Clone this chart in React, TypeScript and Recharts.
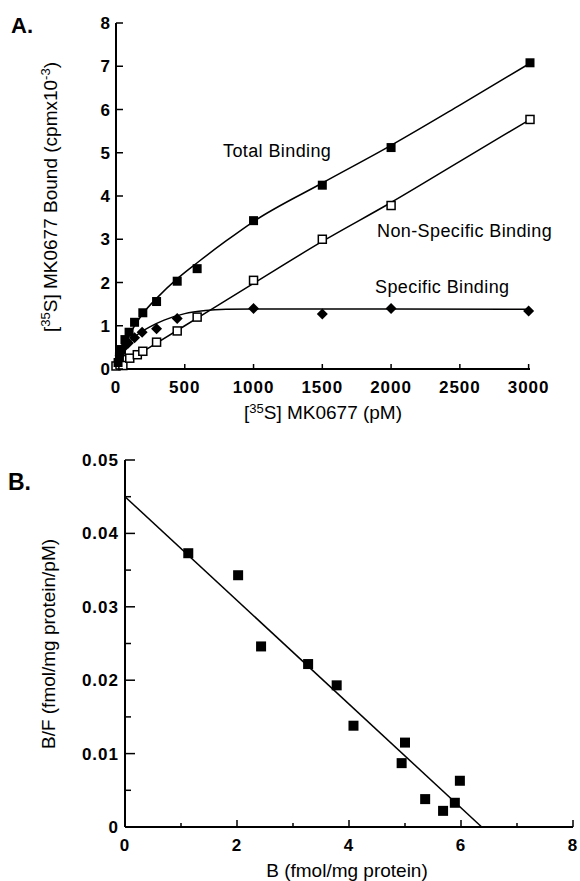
import { ComposedChart, Line, Scatter, XAxis, YAxis } from 'recharts'

// ---- Panel A: saturation binding ----
const totalConc = [15, 25, 40, 65, 95, 135, 195, 295, 445, 590, 1000, 1500, 2000, 3010]
const totalBound = [0.15, 0.28, 0.45, 0.68, 0.85, 1.08, 1.3, 1.56, 2.03, 2.32, 3.43, 4.25, 5.12, 7.08]
const nsbConc = [0, 50, 100, 155, 195, 295, 445, 590, 1000, 1500, 2000, 3010]
const nsbBound = [0.07, 0.08, 0.25, 0.33, 0.41, 0.62, 0.88, 1.2, 2.05, 3.0, 3.78, 5.77]
const specConc = [30, 55, 90, 135, 190, 295, 445, 1000, 1500, 2000, 3000]
const specBound = [0.32, 0.5, 0.6, 0.72, 0.85, 0.93, 1.17, 1.4, 1.27, 1.4, 1.34]

// fitted curves
const totalFitX = [0, 50, 100, 200, 300, 450, 600, 800, 1000, 1500, 2000, 2500, 3000]
const totalFitY = [0, 0.45, 0.8, 1.3, 1.65, 2.1, 2.48, 2.96, 3.41, 4.3, 5.17, 6.1, 7.05]
const nsbFitX = [0, 500, 1000, 1500, 2000, 2500, 3000]
const nsbFitY = [0.02, 1.0, 1.98, 2.95, 3.85, 4.8, 5.75]
const specFitX = [0, 50, 100, 150, 250, 350, 500, 650, 800, 1000, 2000, 3000]
const specFitY = [0, 0.42, 0.64, 0.78, 0.98, 1.13, 1.28, 1.35, 1.38, 1.39, 1.39, 1.38]

const aXTicks = [0, 500, 1000, 1500, 2000, 2500, 3000]
const aYTicks = [0, 1, 2, 3, 4, 5, 6, 7, 8]

// ---- Panel B: Scatchard plot ----
const boundB = [1.13, 2.02, 2.43, 3.27, 3.78, 4.08, 5.0, 4.94, 5.98, 5.36, 5.68, 5.89]
const ratioBF = [0.0373, 0.0343, 0.0246, 0.0222, 0.0193, 0.0138, 0.0115, 0.0087, 0.0063, 0.0038, 0.0022, 0.0033]
const bFitX = [0, 6.37]
const bFitY = [0.045, 0]

const bXTicks = [0, 1, 2, 3, 4, 5, 6, 7, 8]
const bYTicks = [0, 0.005, 0.01, 0.015, 0.02, 0.025, 0.03, 0.035, 0.04, 0.045, 0.05]

const zip = (xs: number[], ys: number[]) => xs.map((x, i) => ({ x, y: ys[i] }))

const FONT = '"Liberation Sans", Arial, Helvetica, sans-serif'
const tickFont = { fontFamily: FONT, fontSize: 17, fontWeight: 700, letterSpacing: 1, fill: '#000' }
const titleFont = { fontFamily: FONT, fontSize: 19, fill: '#000' }

type TickOpts = {
  side: 'x' | 'y'
  isMajor: (v: number) => boolean
  fmt: (v: number) => string
  majorLen: number
  minorLen: number
  labelGap: number
}

// ticks point into the plot, so lines are drawn here instead of by the axis
function makeTick({ side, isMajor, fmt, majorLen, minorLen, labelGap }: TickOpts) {
  return (props: any) => {
    const { x, y, payload } = props
    const v = payload.value
    const major = isMajor(v)
    const len = major ? majorLen : minorLen
    if (side === 'x') {
      return (
        <g>
          <line x1={x} x2={x} y1={y} y2={y - len} stroke="#000" strokeWidth={1.5} />
          {major && (
            <text x={x} y={y + labelGap} textAnchor="middle" style={tickFont}>
              {fmt(v)}
            </text>
          )}
        </g>
      )
    }
    return (
      <g>
        <line x1={x} x2={x + len} y1={y} y2={y} stroke="#000" strokeWidth={1.5} />
        {major && (
          <text x={x - labelGap} y={y + 6} textAnchor="end" style={tickFont}>
            {fmt(v)}
          </text>
        )}
      </g>
    )
  }
}

const filledSquare = (s: number) => (p: any) => (
  <rect x={p.cx - s / 2} y={p.cy - s / 2} width={s} height={s} fill="#000" />
)
const openSquare = (s: number) => (p: any) => (
  <rect x={p.cx - s / 2} y={p.cy - s / 2} width={s} height={s} fill="#fff" stroke="#000" strokeWidth={1.5} />
)
const diamond = (s: number) => (p: any) => (
  <path
    d={`M${p.cx},${p.cy - s / 2} L${p.cx + s / 2},${p.cy} L${p.cx},${p.cy + s / 2} L${p.cx - s / 2},${p.cy} Z`}
    fill="#000"
  />
)

function PanelA() {
  return (
    <ComposedChart width={580} height={440} margin={{ top: 23, right: 50, bottom: 11, left: 0 }}>
      <XAxis
        type="number"
        dataKey="x"
        domain={[0, 3000]}
        ticks={aXTicks}
        interval={0}
        height={60}
        tickSize={0}
        tickMargin={0}
        tickLine={false}
        axisLine={{ stroke: '#000', strokeWidth: 2 }}
        tick={makeTick({ side: 'x', isMajor: () => true, fmt: (v) => String(v), majorLen: 5, minorLen: 0, labelGap: 24 })}
        label={{
          content: () => (
            <text x={323} y={419} textAnchor="middle" style={titleFont}>
              [<tspan dy={-6} fontSize={13}>35</tspan>
              <tspan dy={6}>S] MK0677 (pM)</tspan>
            </text>
          ),
        }}
      />
      <YAxis
        type="number"
        dataKey="y"
        domain={[0, 8]}
        ticks={aYTicks}
        interval={0}
        width={116}
        tickSize={0}
        tickMargin={0}
        tickLine={false}
        axisLine={{ stroke: '#000', strokeWidth: 2 }}
        tick={makeTick({ side: 'y', isMajor: () => true, fmt: (v) => String(v), majorLen: 7, minorLen: 0, labelGap: 5 })}
        label={{
          content: () => (
            <text transform="translate(57,197) rotate(-90)" textAnchor="middle" style={titleFont}>
              [<tspan dy={-7} fontSize={13}>35</tspan>
              <tspan dy={7}>S] MK0677 Bound (cpmx10</tspan>
              <tspan dy={-7} fontSize={13}>-3</tspan>
              <tspan dy={7}>)</tspan>
            </text>
          ),
        }}
      />
      <Line data={zip(totalFitX, totalFitY)} dataKey="y" type="monotone" stroke="#000" strokeWidth={1.5} dot={false} isAnimationActive={false} />
      <Line data={zip(nsbFitX, nsbFitY)} dataKey="y" type="monotone" stroke="#000" strokeWidth={1.5} dot={false} isAnimationActive={false} />
      <Line data={zip(specFitX, specFitY)} dataKey="y" type="monotone" stroke="#000" strokeWidth={1.5} dot={false} isAnimationActive={false} />
      <Scatter data={zip(nsbConc, nsbBound)} shape={openSquare(8)} isAnimationActive={false} />
      <Scatter data={zip(specConc, specBound)} shape={diamond(11)} isAnimationActive={false} />
      <Scatter data={zip(totalConc, totalBound)} shape={filledSquare(9)} isAnimationActive={false} />
    </ComposedChart>
  )
}

function PanelB() {
  return (
    <ComposedChart width={580} height={441} margin={{ top: 20, right: 7, bottom: 0, left: 0 }}>
      <XAxis
        type="number"
        dataKey="x"
        domain={[0, 8]}
        ticks={bXTicks}
        interval={0}
        height={54}
        tickSize={0}
        tickMargin={0}
        tickLine={false}
        axisLine={{ stroke: '#000', strokeWidth: 2 }}
        tick={makeTick({ side: 'x', isMajor: (v) => v % 2 === 0, fmt: (v) => String(v), majorLen: 7, minorLen: 4, labelGap: 24 })}
        label={{
          content: () => (
            <text x={347} y={437} textAnchor="middle" style={titleFont}>
              B (fmol/mg protein)
            </text>
          ),
        }}
      />
      <YAxis
        type="number"
        dataKey="y"
        domain={[0, 0.05]}
        ticks={bYTicks}
        interval={0}
        width={125}
        tickSize={0}
        tickMargin={0}
        tickLine={false}
        axisLine={{ stroke: '#000', strokeWidth: 2 }}
        tick={makeTick({
          side: 'y',
          isMajor: (v) => Math.round(v * 1000) % 10 === 0,
          fmt: (v) => (v === 0 ? '0' : v.toFixed(2)),
          majorLen: 10,
          minorLen: 6,
          labelGap: 6,
        })}
        label={{
          content: () => (
            <text transform="translate(55,204) rotate(-90)" textAnchor="middle" style={titleFont}>
              B/F (fmol/mg protein/pM)
            </text>
          ),
        }}
      />
      <Line data={zip(bFitX, bFitY)} dataKey="y" type="linear" stroke="#000" strokeWidth={1.5} dot={false} isAnimationActive={false} />
      <Scatter data={zip(boundB, ratioBF)} shape={filledSquare(10)} isAnimationActive={false} />
    </ComposedChart>
  )
}

export default function App() {
  return (
    <div style={{ position: 'relative', width: 580, height: 881, background: '#fff', overflow: 'hidden' }}>
      <style>{'body{margin:0;background:#fff}'}</style>
      <div style={{ position: 'absolute', left: 0, top: 0 }}>
        <PanelA />
      </div>
      <div style={{ position: 'absolute', left: 0, top: 440 }}>
        <PanelB />
      </div>
      <svg width={580} height={881} style={{ position: 'absolute', left: 0, top: 0, pointerEvents: 'none' }}>
        <text x={11} y={33} style={{ fontFamily: FONT, fontSize: 22, fontWeight: 700 }}>A.</text>
        <text x={8} y={490} style={{ fontFamily: FONT, fontSize: 23, fontWeight: 700 }}>B.</text>
        <text x={223} y={157} style={{ fontFamily: FONT, fontSize: 18, letterSpacing: 0.4 }}>Total Binding</text>
        <text x={377} y={237} style={{ fontFamily: FONT, fontSize: 18, letterSpacing: 0.4 }}>Non-Specific Binding</text>
        <text x={375} y={293} style={{ fontFamily: FONT, fontSize: 18, letterSpacing: 0.4 }}>Specific Binding</text>
      </svg>
    </div>
  )
}
